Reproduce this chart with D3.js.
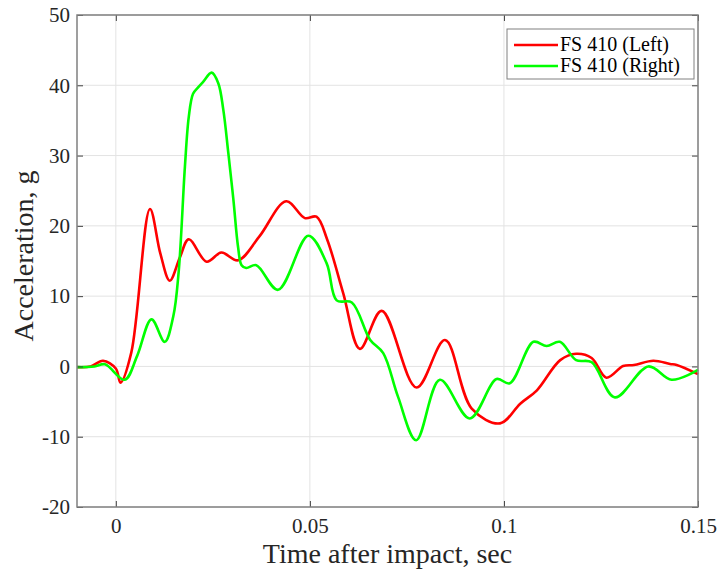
<!DOCTYPE html>
<html>
<head>
<meta charset="utf-8">
<script src="https://cdn.jsdelivr.net/npm/d3@7"></script>
<style>
  body { margin: 0; background: #fff; }
</style>
</head>
<body>
<svg width="720" height="572"></svg>
<script>
// data: time (s), acceleration (g)
var leftT = [-0.01, -0.0065, -0.0033, 0.0, 0.0012, 0.004, 0.0088, 0.0115, 0.0139, 0.0165, 0.0188, 0.0234, 0.0272, 0.0315, 0.037, 0.0439, 0.0487, 0.0517, 0.0545, 0.0586, 0.0629, 0.0685, 0.0775, 0.0848, 0.0917, 0.099, 0.1042, 0.1085, 0.1145, 0.1186, 0.1226, 0.1264, 0.1307, 0.1335, 0.1385, 0.1428, 0.1445, 0.15];
var leftG = [-0.1, 0.0, 0.8, -0.3, -2.3, 2.0, 22.4, 16.0, 12.2, 15.5, 18.1, 14.9, 16.2, 15.1, 18.5, 23.5, 21.1, 21.3, 18.0, 10.4, 2.5, 7.9, -3.0, 3.75, -6.0, -8.1, -5.3, -3.4, 0.9, 1.8, 1.2, -1.6, 0.05, 0.2, 0.8, 0.35, 0.2, -1.1];
var rightT = [-0.01, -0.0055, -0.0028, 0.0023, 0.0055, 0.0092, 0.0126, 0.0148, 0.0162, 0.0178, 0.0188, 0.0199, 0.0212, 0.0225, 0.0247, 0.0264, 0.0277, 0.029, 0.0303, 0.0315, 0.0324, 0.0336, 0.0362, 0.0418, 0.0496, 0.0543, 0.0569, 0.0608, 0.0655, 0.0689, 0.0727, 0.0774, 0.0835, 0.0912, 0.0981, 0.1015, 0.1076, 0.111, 0.1144, 0.1186, 0.1226, 0.1286, 0.1372, 0.1432, 0.15];
var rightG = [-0.1, 0.0, 0.3, -1.9, 1.5, 6.7, 3.5, 7.1, 13.5, 28.4, 35.5, 38.8, 39.7, 40.5, 41.8, 40.3, 36.5, 30.3, 23.7, 17.0, 14.4, 14.0, 14.4, 10.9, 18.6, 14.7, 9.4, 9.1, 3.8, 1.9, -4.3, -10.5, -1.9, -7.4, -1.8, -2.4, 3.5, 2.9, 3.5, 0.9, 0.6, -4.4, 0.0, -1.9, -0.5];
var seriesNames = ['FS 410 (Left)', 'FS 410 (Right)'];
var seriesColors = ['#ff0000', '#00ff00'];
var xTicks = [0, 0.05, 0.1, 0.15];
var yTicks = [-20, -10, 0, 10, 20, 30, 40, 50];

var FONT = '"Liberation Serif", "Times New Roman", serif';
var svg = d3.select('svg'),
    L = 77, R = 698, T = 15, B = 507;

var x = d3.scaleLinear().domain([-0.01, 0.15]).range([L, R]),
    y = d3.scaleLinear().domain([-20, 50]).range([B, T]);

// grid
var grid = svg.append('g');
grid.selectAll('.gx').data(xTicks).enter().append('line')
  .attr('x1', d => x(d)).attr('x2', d => x(d)).attr('y1', T).attr('y2', B)
  .attr('stroke', '#e3e3e3').attr('stroke-width', 1);
grid.selectAll('.gy').data(yTicks).enter().append('line')
  .attr('y1', d => y(d)).attr('y2', d => y(d)).attr('x1', L).attr('x2', R)
  .attr('stroke', '#e3e3e3').attr('stroke-width', 1);

// curves
var line = d3.line().x(d => x(d[0])).y(d => y(d[1])).curve(d3.curveCatmullRom.alpha(0.5));
var series = [d3.zip(leftT, leftG), d3.zip(rightT, rightG)];
svg.append('g').selectAll('path').data(series).enter().append('path')
  .attr('d', line).attr('fill', 'none')
  .attr('stroke', (d, i) => seriesColors[i]).attr('stroke-width', 2.6)
  .attr('stroke-linejoin', 'round');

// axes, inward ticks on all four sides
var fmt = d => String(d);
svg.append('g').attr('transform', 'translate(0,' + B + ')')
  .call(d3.axisBottom(x).tickValues(xTicks).tickSizeInner(-6).tickSizeOuter(0).tickPadding(11).tickFormat(fmt))
  .call(g => g.select('.domain').remove());
svg.append('g').attr('transform', 'translate(0,' + T + ')')
  .call(d3.axisTop(x).tickValues(xTicks).tickSizeInner(-6).tickSizeOuter(0).tickFormat(''))
  .call(g => g.select('.domain').remove());
svg.append('g').attr('transform', 'translate(' + L + ',0)')
  .call(d3.axisLeft(y).tickValues(yTicks).tickSizeInner(-6).tickSizeOuter(0).tickPadding(7).tickFormat(fmt))
  .call(g => g.select('.domain').remove());
svg.append('g').attr('transform', 'translate(' + R + ',0)')
  .call(d3.axisRight(y).tickValues(yTicks).tickSizeInner(-6).tickSizeOuter(0).tickFormat(''))
  .call(g => g.select('.domain').remove());
svg.selectAll('.tick line').attr('stroke', '#404040');
svg.selectAll('.tick text').attr('font-family', null).style('font-family', FONT)
  .style('font-size', '21px').style('fill', '#262626');

svg.append('rect').attr('x', L).attr('y', T).attr('width', R - L).attr('height', B - T)
  .attr('fill', 'none').attr('stroke', '#808080').attr('stroke-width', 1.5);

// labels
svg.append('text').attr('x', (L + R) / 2).attr('y', 563).attr('text-anchor', 'middle')
  .style('font-family', FONT).style('font-size', '28px').style('fill', '#262626')
  .text('Time after impact, sec');
svg.append('text').attr('transform', 'translate(33,256) rotate(-90)')
  .attr('text-anchor', 'middle').style('font-family', FONT).style('font-size', '28px')
  .style('fill', '#262626').text('Acceleration, g');

// legend
var lg = svg.append('g');
lg.append('rect').attr('x', 507).attr('y', 29).attr('width', 187).attr('height', 50)
  .attr('fill', '#fff').attr('stroke', '#808080').attr('stroke-width', 1);
seriesNames.forEach(function(n, i) {
  var yy = 45 + i * 21;
  lg.append('line').attr('x1', 514).attr('x2', 558).attr('y1', yy).attr('y2', yy)
    .attr('stroke', seriesColors[i]).attr('stroke-width', 2.6);
  lg.append('text').attr('x', 560).attr('y', yy + 6)
    .style('font-family', FONT).style('font-size', '20px').style('fill', '#000').text(n);
});
</script>
</body>
</html>
